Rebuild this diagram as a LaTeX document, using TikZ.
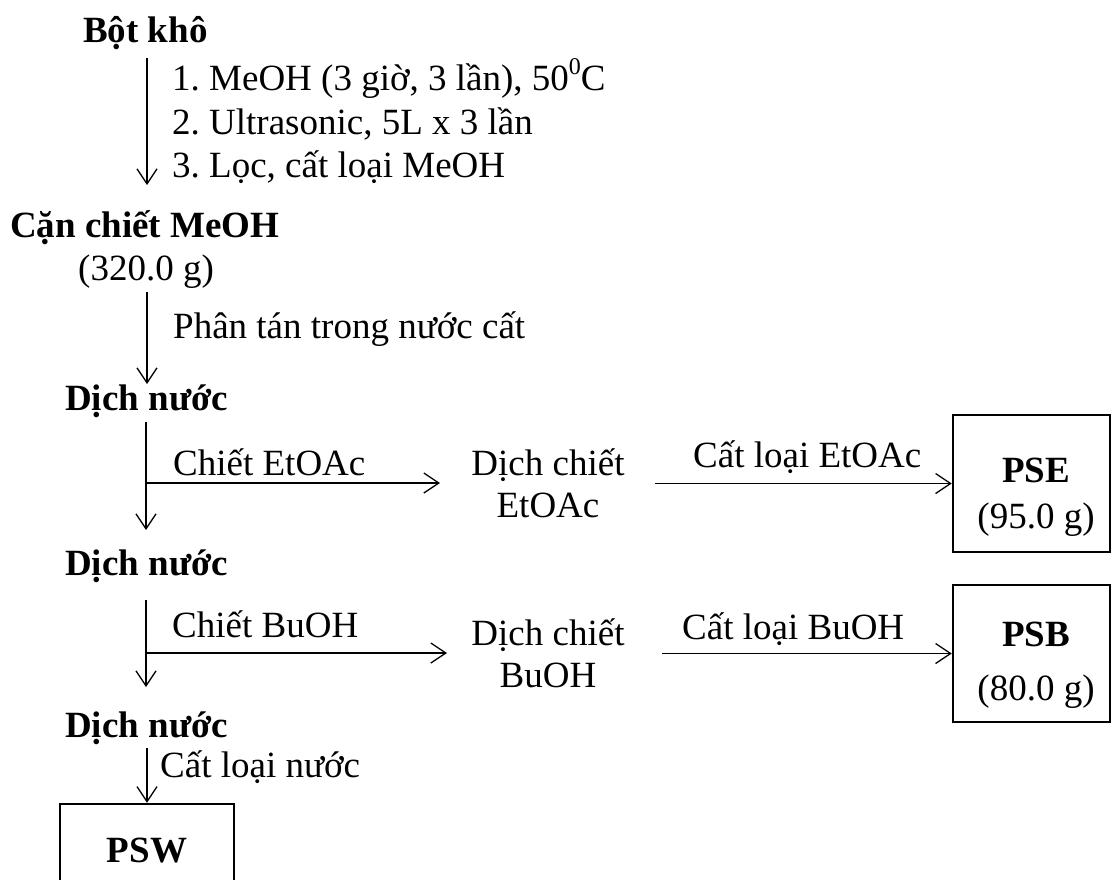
\documentclass[tikz,border=0pt]{standalone}
\usepackage{fontspec}
\setmainfont{Liberation Serif}
\usetikzlibrary{arrows.meta}
\frenchspacing
\begin{document}
\begin{tikzpicture}[x=1pt,y=-1pt,
  every node/.style={inner sep=0pt, font=\fontsize{37}{43}\selectfont},
  tx/.style={anchor=base west},
  bt/.style={anchor=base west, font=\fontsize{37}{43}\selectfont\bfseries},
  ct/.style={anchor=base},
  ctb/.style={anchor=base, font=\fontsize{37}{43}\selectfont\bfseries},
  arr/.style={line width=1.3pt, -{Straight Barb[length=15pt,width=20pt,line width=1.3pt]}},
  box/.style={draw, line width=2.5pt, minimum width=157pt, minimum height=137pt}
]
\useasboundingbox (0,0) rectangle (1112,879);
\clip (0,0) rectangle (1112,879);

% texts
\node[bt] (bot) at (83,42) {Bột khô};
\node[tx] (s1) at (172,90) {1. MeOH (3 giờ, 3 lần), 50\raisebox{0.42em}{\fontsize{24}{24}\selectfont 0}C};
\node[tx] (s2) at (172,134) {2. Ultrasonic, 5L x 3 lần};
\node[tx] (s3) at (172,177) {3. Lọc, cất loại MeOH};
\node[bt] (can) at (10,237) {Cặn chiết MeOH};
\node[tx] (mass) at (78,280) {(320.0 g)};
\node[tx] (pt) at (173,338) {Phân tán trong nước cất};
\node[bt] (dn1) at (65,410) {Dịch nước};
\node[tx] (ce) at (173,475) {Chiết EtOAc};
\node[ct] (dce1) at (548,475) {Dịch chiết};
\node[ct] (dce2) at (548,517) {EtOAc};
\node[tx] (cle) at (693,467) {Cất loại EtOAc};
\node[box] (pse) at (1031.5,483.5) {};
\node[ctb] (pseN) at (1036,482) {PSE};
\node[ct] (pseM) at (1036,528) {(95.0 g)};
\node[bt] (dn2) at (65,575) {Dịch nước};
\node[tx] (cb) at (172,637) {Chiết BuOH};
\node[ct] (dcb1) at (548,645) {Dịch chiết};
\node[ct] (dcb2) at (548,687) {BuOH};
\node[tx] (clb) at (682,639) {Cất loại BuOH};
\node[box] (psb) at (1031.5,653.5) {};
\node[ctb] (psbN) at (1036,646) {PSB};
\node[ct] (psbM) at (1036,700) {(80.0 g)};
\node[bt] (dn3) at (65,737) {Dịch nước};
\node[tx] (cln) at (160,777) {Cất loại nước};
\node[box, minimum width=174pt, minimum height=140pt] (psw) at (147,874) {};
\node[ctb] (pswN) at (147,862) {PSW};

% connector end points
\coordinate (a1s) at (147,58);  \coordinate (a1e) at (147,185);
\coordinate (a2s) at (147,292); \coordinate (a2e) at (147,384);
\coordinate (a3s) at (146,422); \coordinate (a3e) at (146,530);
\coordinate (b3s) at (146,483); \coordinate (b3e) at (440,483);
\coordinate (e3s) at (655,483);
\coordinate (a4s) at (146,600); \coordinate (a4e) at (146,687);
\coordinate (b4s) at (146,653); \coordinate (b4e) at (447,653);
\coordinate (e4s) at (662,653);
\coordinate (a5s) at (147,748);

% connectors
\draw[arr] (a1s) -- (a1e);
\draw[arr] (a2s) -- (a2e);
\draw[arr] (a3s) -- (a3e);
\draw[arr] (b3s) -- (b3e);
\draw[arr] (e3s |- pse.west) -- (pse.west);
\draw[arr] (a4s) -- (a4e);
\draw[arr] (b4s) -- (b4e);
\draw[arr] (e4s |- psb.west) -- (psb.west);
\draw[arr] (a5s) -- (psw.north);
\end{tikzpicture}
\end{document}
